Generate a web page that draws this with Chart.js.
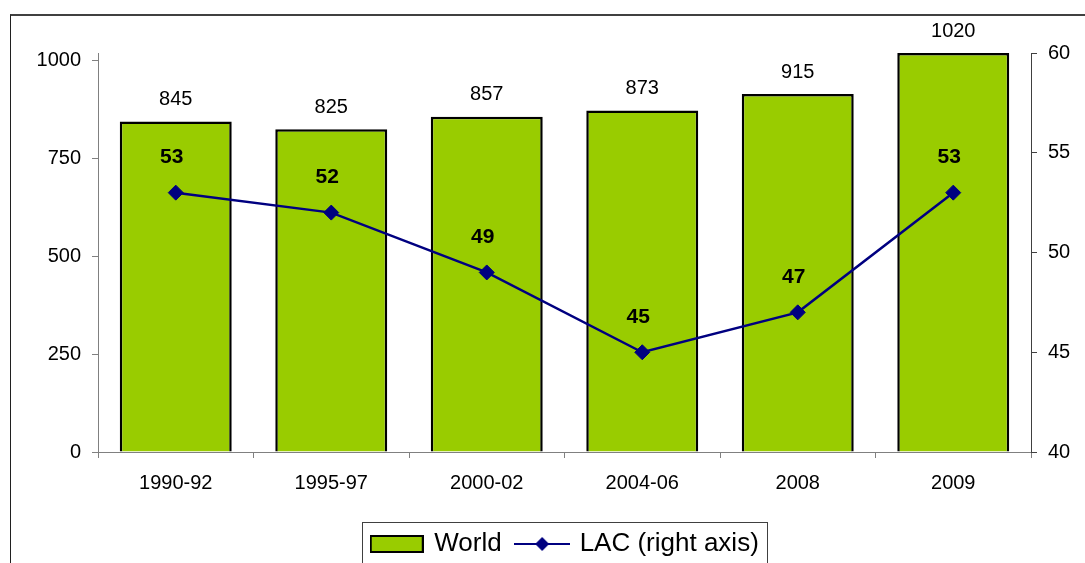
<!DOCTYPE html>
<html>
<head>
<meta charset="utf-8">
<script src="https://cdn.jsdelivr.net/npm/chart.js@4.4.0/dist/chart.umd.min.js"></script>
<style>
  html, body { margin: 0; padding: 0; width: 1085px; height: 563px; overflow: hidden; background: #fff; }
  #frame { position: absolute; left: 10px; top: 14px; width: 2000px; height: 2000px; border-top: 2px solid #404040; border-left: 1px solid #202020; }
  #chartContainer { position: absolute; left: 0; top: 0; width: 1085px; height: 563px; }
</style>
</head>
<body>
<div id="frame"></div>
<div id="chartContainer"><canvas id="myChart" width="1085" height="563"></canvas></div>
<script>
const periods = ["1990-92", "1995-97", "2000-02", "2004-06", "2008", "2009"];
const worldValues = [845, 825, 857, 873, 915, 1020];
const lacValues = [53, 52, 49, 45, 47, 53];
const seriesNames = ["World", "LAC (right axis)"];
const leftTicks = [0, 250, 500, 750, 1000];
const rightTicks = [40, 45, 50, 55, 60];

const fontFamily = "'Liberation Sans', Arial, sans-serif";
const barGreen = "#99CC00";
const navy = "#000080";
const axisGray = "#808080";

Chart.defaults.font.family = fontFamily;
Chart.defaults.color = "#000";

// legend swatches, drawn once on small canvases
function makeBarSwatch() {
  const c = document.createElement("canvas");
  c.width = 54;
  c.height = 18;
  const ctx = c.getContext("2d");
  ctx.fillStyle = barGreen;
  ctx.fillRect(1, 1, 52, 16);
  ctx.strokeStyle = "#000";
  ctx.lineWidth = 2;
  ctx.strokeRect(1, 1, 52, 16);
  return c;
}

function makeLineSwatch() {
  const c = document.createElement("canvas");
  c.width = 56;
  c.height = 18;
  const ctx = c.getContext("2d");
  ctx.strokeStyle = navy;
  ctx.lineWidth = 2;
  ctx.beginPath();
  ctx.moveTo(0, 9);
  ctx.lineTo(56, 9);
  ctx.stroke();
  ctx.fillStyle = navy;
  ctx.beginPath();
  ctx.moveTo(28, 2);
  ctx.lineTo(35, 9);
  ctx.lineTo(28, 16);
  ctx.lineTo(21, 9);
  ctx.closePath();
  ctx.fill();
  return c;
}

const swatches = [makeBarSwatch(), makeLineSwatch()];

const valueLabels = {
  id: "valueLabels",
  afterDatasetsDraw(chart) {
    const ctx = chart.ctx;
    ctx.save();
    ctx.textAlign = "center";
    ctx.textBaseline = "middle";
    ctx.fillStyle = "#000";
    ctx.font = "20px " + fontFamily;
    chart.getDatasetMeta(0).data.forEach((bar, i) => {
      ctx.fillText(String(worldValues[i]), bar.x, bar.y - 22);
    });
    ctx.font = "bold 21px " + fontFamily;
    chart.getDatasetMeta(1).data.forEach((pt, i) => {
      ctx.fillText(String(lacValues[i]), pt.x - 4, pt.y - 35);
    });
    ctx.restore();
  }
};

// legend sits under the plot area (not the canvas) and has a thin box round it
const legendPlace = {
  id: "legendPlace",
  afterLayout(chart) {
    const lg = chart.legend;
    lg.left += 23;
    lg.right += 23;
    const h = lg.bottom - lg.top;
    lg.top = 515;
    lg.bottom = lg.top + h;
  },
  afterDraw(chart) {
    const lg = chart.legend;
    const pad = lg.options.labels.padding;
    const rowW = lg.lineWidths[0];
    const start = (lg.left + pad + lg.right - rowW) / 2;
    const ctx = chart.ctx;
    ctx.save();
    ctx.strokeStyle = "#404040";
    ctx.lineWidth = 1;
    ctx.strokeRect(Math.round(start - 10) + 0.5, lg.top + 7.5, Math.round(rowW - pad + 18), 80);
    ctx.restore();
  }
};

function fixedTicks(values) {
  return function (scale) {
    scale.ticks = values.map((v) => ({ value: v }));
  };
}

new Chart(document.getElementById("myChart"), {
  type: "bar",
  data: {
    labels: periods,
    datasets: [
      {
        type: "bar",
        label: seriesNames[0],
        data: worldValues,
        yAxisID: "y",
        backgroundColor: barGreen,
        borderColor: "#000",
        borderWidth: 2.5,
        barPercentage: 0.72,
        categoryPercentage: 1,
        order: 1
      },
      {
        type: "line",
        label: seriesNames[1],
        data: lacValues,
        yAxisID: "y1",
        borderColor: navy,
        borderWidth: 2.5,
        tension: 0,
        pointStyle: "rectRot",
        pointRadius: 7.5,
        pointBackgroundColor: navy,
        pointBorderColor: navy,
        pointBorderWidth: 1,
        order: 0
      }
    ]
  },
  options: {
    responsive: false,
    animation: false,
    events: [],
    layout: { padding: { top: 53, left: 0, right: 0, bottom: 0 } },
    plugins: {
      tooltip: { enabled: false },
      legend: {
        position: "bottom",
        labels: {
          usePointStyle: true,
          pointStyleWidth: 49,
          padding: 16,
          color: "#000",
          font: { size: 26, family: fontFamily },
          generateLabels(chart) {
            const items = Chart.defaults.plugins.legend.labels.generateLabels(chart);
            items.sort((a, b) => a.datasetIndex - b.datasetIndex);
            items.forEach((item) => {
              item.pointStyle = swatches[item.datasetIndex];
            });
            return items;
          }
        }
      }
    },
    scales: {
      x: {
        grid: { drawOnChartArea: false, tickLength: 6, color: axisGray, offset: true },
        border: { color: axisGray, width: 1 },
        ticks: { color: "#000", font: { size: 20 }, padding: 13, maxRotation: 0 },
        afterFit(scale) { scale.height = 59; }
      },
      y: {
        position: "left",
        min: 0,
        max: 1020,
        afterBuildTicks: fixedTicks(leftTicks),
        ticks: { color: "#000", font: { size: 20 }, padding: 11, callback: (v) => String(v) },
        grid: { drawOnChartArea: false, tickLength: 6, color: axisGray },
        border: { color: axisGray, width: 1 },
        afterFit(scale) { scale.width = 98; }
      },
      y1: {
        position: "right",
        min: 40,
        max: 60,
        afterBuildTicks: fixedTicks(rightTicks),
        ticks: { color: "#000", font: { size: 20 }, padding: 11, callback: (v) => String(v) },
        grid: { drawOnChartArea: false, tickLength: 6, color: "#404040" },
        border: { color: "#404040", width: 1 },
        afterFit(scale) { scale.width = 54; }
      }
    }
  },
  plugins: [valueLabels, legendPlace]
});
</script>
</body>
</html>
